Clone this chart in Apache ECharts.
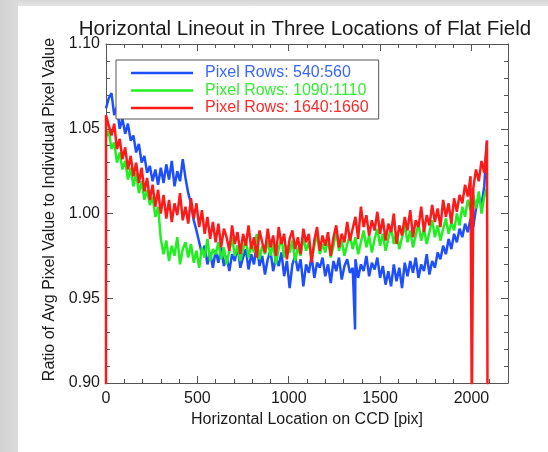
<!DOCTYPE html>
<html>
<head>
<meta charset="utf-8">
<title>Horizontal Lineout in Three Locations of Flat Field</title>
<script src="https://cdn.jsdelivr.net/npm/echarts@6/dist/echarts.min.js"></script>
<style>
  html, body { margin: 0; padding: 0; width: 548px; height: 452px; overflow: hidden; background: #ffffff; }
  #frameLeft { position: absolute; left: 0; top: 0; width: 18px; height: 452px; background: linear-gradient(to right, #d2d2d2, #dadada); }
  #frameTop { position: absolute; left: 18px; top: 0; width: 530px; height: 6px; background: linear-gradient(to bottom, #d6d6d6, #e4e4e4); }
  #chart { position: absolute; left: 0; top: 0; width: 548px; height: 452px; }
</style>
</head>
<body>
<div id="frameLeft"></div>
<div id="frameTop"></div>
<div id="chart"></div>
<script>
// Horizontal position (CCD pixel) of sample i is i * sampleStep.
const sampleStep = 15;

const seriesNames = ['Pixel Rows: 540:560', 'Pixel Rows: 1090:1110', 'Pixel Rows: 1640:1660'];
const xTicks = [0, 500, 1000, 1500, 2000];
const yTicks = [0.90, 0.95, 1.00, 1.05, 1.10];

// Rows 540:560
const rows540 = [
  1.062, 1.068, 1.071, 1.058, 1.063, 1.050, 1.056, 1.047, 1.053, 1.043,
  1.046, 1.036, 1.041, 1.030, 1.034, 1.024, 1.028, 1.019, 1.026, 1.017,
  1.027, 1.018, 1.029, 1.020, 1.031, 1.016, 1.025, 1.019, 1.032, 1.021,
  1.012, 1.006, 0.996, 0.990, 0.983, 0.976, 0.981, 0.970, 0.977, 0.968,
  0.978, 0.971, 0.980, 0.969, 0.975, 0.966, 0.976, 0.972, 0.981, 0.968,
  0.974, 0.979, 0.967, 0.976, 0.970, 0.982, 0.969, 0.975, 0.964, 0.973,
  0.978, 0.966, 0.974, 0.969, 0.977, 0.963, 0.972, 0.956, 0.970, 0.975,
  0.966, 0.973, 0.957, 0.970, 0.965, 0.975, 0.962, 0.971, 0.968, 0.974,
  0.963, 0.970, 0.959, 0.972, 0.966, 0.974, 0.961, 0.969, 0.973, 0.965,
  0.968, 0.973, 0.962, 0.970, 0.966, 0.975, 0.963, 0.971, 0.967, 0.974,
  0.962, 0.969, 0.958, 0.966, 0.957, 0.970, 0.960, 0.968, 0.956, 0.971,
  0.963, 0.972, 0.965, 0.974, 0.962, 0.970, 0.966, 0.976, 0.964, 0.972,
  0.968, 0.977, 0.973, 0.981, 0.976, 0.985, 0.979, 0.988, 0.983, 0.991,
  0.986, 0.994, 0.989, 0.997, 0.992, 1.003, 1.010, 1.005, 1.016, 1.043
];
// Isolated low pixels in rows 540:560 ([pixel, ratio])
const rows540Defects = [[1363, 0.9316]];

// Rows 1090:1110
const rows1090 = [
  1.045, 1.049, 1.038, 1.042, 1.030, 1.036, 1.026, 1.031, 1.020, 1.027,
  1.016, 1.024, 1.012, 1.019, 1.008, 1.014, 1.005, 1.010, 0.998, 1.004,
  0.985, 0.976, 0.984, 0.972, 0.981, 0.975, 0.986, 0.970, 0.979, 0.983,
  0.974, 0.982, 0.971, 0.978, 0.968, 0.980, 0.974, 0.985, 0.972, 0.979,
  0.976, 0.983, 0.973, 0.980, 0.970, 0.978, 0.986, 0.975, 0.981, 0.972,
  0.979, 0.985, 0.974, 0.982, 0.977, 0.988, 0.973, 0.981, 0.976, 0.984,
  0.975, 0.982, 0.970, 0.979, 0.986, 0.974, 0.981, 0.977, 0.984, 0.972,
  0.980, 0.975, 0.986, 0.978, 0.983, 0.973, 0.981, 0.988, 0.976, 0.982,
  0.977, 0.985, 0.974, 0.981, 0.990, 0.978, 0.984, 0.975, 0.982, 0.987,
  0.979, 0.986, 0.976, 0.983, 0.990, 0.980, 0.987, 0.977, 0.985, 0.991,
  0.981, 0.988, 0.978, 0.985, 0.992, 0.982, 0.989, 0.979, 0.986, 0.993,
  0.983, 0.990, 0.980, 0.987, 0.994, 0.984, 0.991, 0.982, 0.989, 0.996,
  0.986, 0.993, 0.984, 0.991, 0.997, 0.988, 0.995, 0.990, 1.000, 0.993,
  1.004, 0.998, 1.008, 1.002, 1.011, 1.003, 1.013, 1.000, 1.010, 1.015
];
const rows1090Defects = [];

// Rows 1640:1660
const rows1640 = [
  1.058, 1.052, 1.046, 1.053, 1.038, 1.044, 1.032, 1.039, 1.026, 1.034,
  1.022, 1.030, 1.018, 1.027, 1.013, 1.021, 1.008, 1.017, 1.004, 1.014,
  1.000, 1.011, 0.997, 1.008, 0.995, 1.006, 0.999, 1.012, 0.996, 1.004,
  0.994, 1.009, 0.997, 1.006, 0.992, 1.002, 0.988, 0.998, 0.985, 0.995,
  0.983, 0.994, 0.980, 0.991, 0.986, 0.978, 0.993, 0.982, 0.989, 0.976,
  0.988, 0.981, 0.993, 0.979, 0.986, 0.974, 0.990, 0.983, 0.977, 0.991,
  0.980, 0.987, 0.975, 0.992, 0.982, 0.988, 0.973, 0.985, 0.990, 0.979,
  0.986, 0.976, 0.991, 0.983, 0.988, 0.971, 0.984, 0.992, 0.978, 0.987,
  0.981, 0.989, 0.975, 0.986, 0.993, 0.980, 0.988, 0.983, 0.995, 0.984,
  0.991, 0.998, 0.985, 1.004, 0.992, 0.999, 0.987, 0.996, 0.990, 1.001,
  0.988, 0.997, 0.984, 0.994, 0.989, 1.000, 0.982, 0.993, 0.987, 0.998,
  0.990, 1.002, 0.986, 0.996, 0.992, 1.004, 0.989, 0.999, 0.993, 1.005,
  0.995, 1.003, 0.992, 1.008, 0.998, 1.006, 0.994, 1.009, 1.001, 1.011,
  1.006, 1.017, 1.010, 1.022, 1.015, 1.026, 1.019, 1.031, 1.024, 1.043
];
const rows1640Defects = [[0, 0.88], [2002, 0.88], [2088, 0.88]];

const lineColors = ['#1d4fff', '#22ee22', '#ff1a1a'];
const labelColors = ['#3a66ff', '#33ee33', '#ff2a2a'];

// Merge the regular samples with the isolated pixels, ordered by position.
function buildPoints(values, defects) {
  const pts = values.map((v, i) => ({ x: i * sampleStep, y: v, k: 1 }));
  defects.forEach(d => pts.push({ x: d[0], y: d[1], k: 0 }));
  pts.sort((a, b) => (a.x - b.x) || (a.k - b.k));
  return pts.map(p => [p.x, p.y]);
}

const FONT = '"Liberation Sans", Arial, Helvetica, sans-serif';
const AX = '#555555';
const TXT = '#1a1a1a';

const tickStyle = { inside: true, length: 7, lineStyle: { color: AX, width: 1 } };
const minorStyle = { show: true, splitNumber: 5, length: 4, lineStyle: { color: AX, width: 1 } };

const chart = echarts.init(document.getElementById('chart'), null, { renderer: 'canvas' });

const dataSets = [
  buildPoints(rows540, rows540Defects),
  buildPoints(rows1090, rows1090Defects),
  buildPoints(rows1640, rows1640Defects)
];

chart.setOption({
  animation: false,
  title: {
    text: 'Horizontal Lineout in Three Locations of Flat Field',
    left: 300,
    textAlign: 'center',
    top: 14,
    textStyle: { fontFamily: FONT, fontSize: 20.5, fontWeight: 'normal', color: TXT }
  },
  grid: { left: 106, right: 40, top: 44, bottom: 69, containLabel: false },
  legend: {
    orient: 'vertical',
    left: 116,
    top: 60,
    padding: [5, 10, 3, 15],
    icon: 'rect',
    itemWidth: 62,
    itemHeight: 2.5,
    itemGap: 1.5,
    borderColor: AX,
    borderWidth: 1,
    backgroundColor: '#ffffff',
    selectedMode: false,
    textStyle: { fontFamily: FONT, fontSize: 16, lineHeight: 14, padding: [0, 0, 0, 7] },
    data: seriesNames.map((n, i) => ({
      name: n,
      itemStyle: { color: lineColors[i] },
      textStyle: { color: labelColors[i] }
    }))
  },
  xAxis: [
    {
      type: 'value', min: 0, max: 2200, interval: 500, position: 'bottom',
      axisLine: { show: true, onZero: false, lineStyle: { color: AX, width: 1 } },
      axisTick: Object.assign({ show: true }, tickStyle),
      minorTick: minorStyle,
      splitLine: { show: false },
      axisLabel: {
        show: true, margin: 8, color: TXT, fontFamily: FONT, fontSize: 16,
        formatter: v => (xTicks.indexOf(v) >= 0 ? String(v) : '')
      },
      name: 'Horizontal Location on CCD [pix]',
      nameLocation: 'middle', nameGap: 26,
      nameTextStyle: { fontFamily: FONT, fontSize: 16, color: TXT }
    },
    {
      type: 'value', min: 0, max: 2200, interval: 500, position: 'top',
      axisLine: { show: true, onZero: false, lineStyle: { color: AX, width: 1 } },
      axisTick: Object.assign({ show: true }, tickStyle),
      minorTick: minorStyle,
      splitLine: { show: false },
      axisLabel: { show: false }
    }
  ],
  yAxis: [
    {
      type: 'value', min: 0.9, max: 1.1, interval: 0.05, position: 'left',
      axisLine: { show: true, onZero: false, lineStyle: { color: AX, width: 1 } },
      axisTick: Object.assign({ show: true }, tickStyle),
      minorTick: minorStyle,
      splitLine: { show: false },
      axisLabel: {
        show: true, margin: 6, color: TXT, fontFamily: FONT, fontSize: 16,
        formatter: v => {
          const hit = yTicks.find(t => Math.abs(t - v) < 1e-6);
          return hit === undefined ? '' : hit.toFixed(2);
        }
      },
      name: 'Ratio of Avg Pixel Value to Individual Pixel Value',
      nameLocation: 'middle', nameGap: 41, nameRotate: 90,
      nameTextStyle: { fontFamily: FONT, fontSize: 16, color: TXT, padding: [0, 0, 0, 8] }
    },
    {
      type: 'value', min: 0.9, max: 1.1, interval: 0.05, position: 'right',
      axisLine: { show: true, onZero: false, lineStyle: { color: AX, width: 1 } },
      axisTick: Object.assign({ show: true }, tickStyle),
      minorTick: minorStyle,
      splitLine: { show: false },
      axisLabel: { show: false }
    }
  ],
  series: seriesNames.map((n, i) => ({
    name: n,
    type: 'line',
    xAxisIndex: 0,
    yAxisIndex: 0,
    data: dataSets[i],
    symbol: 'none',
    clip: true,
    lineStyle: { color: lineColors[i], width: 2.5 },
    itemStyle: { color: lineColors[i] },
    z: 2 + i
  }))
});
</script>
</body>
</html>
